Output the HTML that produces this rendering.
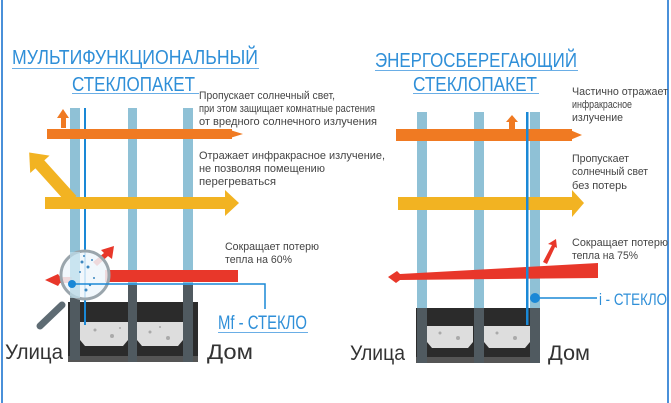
<!DOCTYPE html>
<html><head><meta charset="utf-8"><style>
html,body{margin:0;padding:0;background:#fff;}
svg{display:block;}
text{font-family:"Liberation Sans Narrow","Liberation Sans",sans-serif;}
</style></head><body>
<svg width="671" height="403" viewBox="0 0 671 403" xmlns="http://www.w3.org/2000/svg">
<rect x="0" y="0" width="671" height="403" fill="#fff"/>
<rect x="1" y="0" width="2" height="403" fill="#4a90d9"/>
<rect x="667" y="0" width="2" height="403" fill="#4a90d9"/>

<text x="12" y="64" font-size="20" fill="#2f8fd8" textLength="246" lengthAdjust="spacingAndGlyphs">МУЛЬТИФУНКЦИОНАЛЬНЫЙ</text>
<rect x="12" y="68" width="247" height="1" fill="#6aaee6"/>
<text x="72" y="91" font-size="20" fill="#2f8fd8" textLength="123" lengthAdjust="spacingAndGlyphs">СТЕКЛОПАКЕТ</text>
<rect x="72" y="93" width="127" height="1" fill="#6aaee6"/>

<g font-size="11" fill="#444">
<text x="199" y="99" textLength="136" lengthAdjust="spacingAndGlyphs">Пропускает солнечный свет,</text>
<text x="199" y="112" textLength="176" lengthAdjust="spacingAndGlyphs">при этом защищает комнатные растения</text>
<text x="199" y="125" textLength="178" lengthAdjust="spacingAndGlyphs">от вредного солнечного излучения</text>
<text x="199" y="159" textLength="186" lengthAdjust="spacingAndGlyphs">Отражает инфракрасное излучение,</text>
<text x="199" y="172" textLength="126" lengthAdjust="spacingAndGlyphs">не позволяя помещению</text>
<text x="199" y="185" textLength="77" lengthAdjust="spacingAndGlyphs">перегреваться</text>
<text x="225" y="250" textLength="94" lengthAdjust="spacingAndGlyphs">Сокращает потерю</text>
<text x="225" y="263" textLength="67" lengthAdjust="spacingAndGlyphs">тепла на 60%</text>
</g>

<rect x="68" y="302" width="130" height="60" fill="#2b2b2b"/>
<path d="M80 322 H128 V340 L123 346 H85 L80 340 Z" fill="#ddd"/>
<path d="M137 322 H183 V340 L178 346 H142 L137 340 Z" fill="#ddd"/>
<g fill="#aaa"><circle cx="95" cy="330" r="1.5"/><circle cx="112" cy="336" r="2"/><circle cx="150" cy="332" r="1.5"/><circle cx="168" cy="338" r="2"/><circle cx="120" cy="328" r="1"/><circle cx="160" cy="327" r="1"/></g>
<rect x="68" y="356" width="130" height="6" fill="#555"/>
<rect x="70" y="108" width="10" height="182" fill="#8fc1d6"/>
<rect x="70" y="290" width="10" height="70" fill="#505a60"/>
<rect x="128" y="108" width="9" height="177" fill="#8fc1d6"/>
<rect x="128" y="285" width="9" height="77" fill="#505a60"/>
<rect x="183" y="108" width="10" height="177" fill="#8fc1d6"/>
<rect x="183" y="285" width="10" height="77" fill="#505a60"/>
<rect x="84" y="108" width="2" height="217" fill="#1a88d6"/>

<rect x="47" y="129" width="185" height="10" fill="#f07a22"/>
<path d="M230 130 L243 134 L230 138 Z" fill="#f07a22"/>
<path d="M61 128 V118 H57 L63 109 L69 118 H66 V128 Z" fill="#f07a22"/>
<rect x="45" y="197" width="180" height="12" fill="#f2b322"/>
<path d="M225 190 L239 203 L225 216 Z" fill="#f2b322"/>
<g transform="translate(72,200) rotate(-132)">
<rect x="0" y="-6" width="50" height="12" fill="#f2b322"/>
<path d="M48 -13 L64 0 L48 13 Z" fill="#f2b322"/>
</g>
<rect x="105" y="270" width="133" height="12" fill="#e8372a"/>
<path d="M60 277 H72 V283 H60 L58 286 L45 280 L58 274 Z" fill="#e8372a"/>
<path d="M93 262 L104 253 L101 250 L114 246 L112 259 L108 256 L97 266 Z" fill="#e8372a"/>

<line x1="62" y1="305" x2="40" y2="326" stroke="#5e6b73" stroke-width="7" stroke-linecap="round"/>
<circle cx="85" cy="275" r="24" fill="#eef6fb" fill-opacity="0.85" stroke="#9aa5ac" stroke-width="3"/>
<rect x="70" y="252" width="10" height="46" fill="#bfe0ee" opacity="0.7"/>
<g fill="#3d87c0">
<circle cx="82" cy="262" r="1.5"/><circle cx="88" cy="267" r="1.5"/><circle cx="92" cy="260" r="1"/><circle cx="86" cy="290" r="1.5"/><circle cx="94" cy="278" r="1"/><circle cx="80" cy="272" r="1"/><circle cx="90" cy="285" r="1.2"/><circle cx="84" cy="256" r="1"/>
</g>
<circle cx="72" cy="284" r="4" fill="#1a88d6"/>
<polyline points="72,284 265,284 265,309" fill="none" stroke="#1a88d6" stroke-width="1.5"/>
<text x="218" y="329" font-size="19" fill="#2f8fd8" textLength="89" lengthAdjust="spacingAndGlyphs">Mf - СТЕКЛО</text>
<rect x="218" y="332" width="90" height="1" fill="#6aaee6"/>

<text x="5" y="359" font-size="21" fill="#333" textLength="58" lengthAdjust="spacingAndGlyphs">Улица</text>
<text x="207" y="359" font-size="21" fill="#333" textLength="46" lengthAdjust="spacingAndGlyphs">Дом</text>

<text x="375" y="67" font-size="20" fill="#2f8fd8" textLength="202" lengthAdjust="spacingAndGlyphs">ЭНЕРГОСБЕРЕГАЮЩИЙ</text>
<rect x="375" y="70" width="203" height="1" fill="#6aaee6"/>
<text x="413" y="91" font-size="20" fill="#2f8fd8" textLength="124" lengthAdjust="spacingAndGlyphs">СТЕКЛОПАКЕТ</text>
<rect x="413" y="93" width="126" height="1" fill="#6aaee6"/>

<g font-size="11" fill="#444">
<text x="572" y="95" textLength="96" lengthAdjust="spacingAndGlyphs">Частично отражает</text>
<text x="572" y="108" textLength="60" lengthAdjust="spacingAndGlyphs">инфракрасное</text>
<text x="572" y="121" textLength="51" lengthAdjust="spacingAndGlyphs">излучение</text>
<text x="572" y="162" textLength="57" lengthAdjust="spacingAndGlyphs">Пропускает</text>
<text x="572" y="175" textLength="76" lengthAdjust="spacingAndGlyphs">солнечный свет</text>
<text x="572" y="189" textLength="55" lengthAdjust="spacingAndGlyphs">без потерь</text>
<text x="572" y="246" textLength="96" lengthAdjust="spacingAndGlyphs">Сокращает потерю</text>
<text x="572" y="259" textLength="66" lengthAdjust="spacingAndGlyphs">тепла на 75%</text>
</g>

<rect x="416" y="308" width="124" height="55" fill="#2b2b2b"/>
<path d="M427 326 H473 V342 L468 348 H432 L427 342 Z" fill="#ddd"/>
<path d="M484 326 H530 V342 L525 348 H489 L484 342 Z" fill="#ddd"/>
<g fill="#aaa"><circle cx="440" cy="333" r="1.5"/><circle cx="458" cy="338" r="2"/><circle cx="497" cy="333" r="1.5"/><circle cx="515" cy="338" r="2"/></g>
<rect x="416" y="357" width="124" height="6" fill="#555"/>
<rect x="417" y="112" width="10" height="196" fill="#8fc1d6"/>
<rect x="417" y="308" width="10" height="55" fill="#505a60"/>
<rect x="474" y="112" width="10" height="196" fill="#8fc1d6"/>
<rect x="474" y="308" width="10" height="55" fill="#505a60"/>
<rect x="530" y="112" width="10" height="196" fill="#8fc1d6"/>
<rect x="530" y="308" width="10" height="55" fill="#505a60"/>

<rect x="396" y="129" width="176" height="12" fill="#f07a22"/>
<path d="M570 130 L582 135 L570 140 Z" fill="#f07a22"/>
<path d="M509 129 V122 H506 L512 115 L518 122 H515 V129 Z" fill="#f07a22"/>
<rect x="398" y="197" width="174" height="13" fill="#f2b322"/>
<path d="M572 190 L584 203 L572 217 Z" fill="#f2b322"/>
<path d="M400 274 L598 263 V278 L400 280 L396 283 L388 277 L397 271 Z" fill="#e8372a"/>
<path d="M543 262 L552 245 L548 244 L556 239 L557 248 L555 247 L547 264 Z" fill="#e8372a"/>

<rect x="526" y="112" width="2.5" height="213" fill="#1a88d6"/>
<line x1="535" y1="298" x2="597" y2="298" stroke="#1a88d6" stroke-width="1.5"/>
<circle cx="535" cy="298" r="5" fill="#1a88d6"/>
<text x="599" y="305" font-size="17" fill="#2f8fd8" textLength="68" lengthAdjust="spacingAndGlyphs">i - СТЕКЛО</text>

<text x="350" y="360" font-size="21" fill="#333" textLength="55" lengthAdjust="spacingAndGlyphs">Улица</text>
<text x="548" y="360" font-size="21" fill="#333" textLength="42" lengthAdjust="spacingAndGlyphs">Дом</text>
</svg>
</body></html>
